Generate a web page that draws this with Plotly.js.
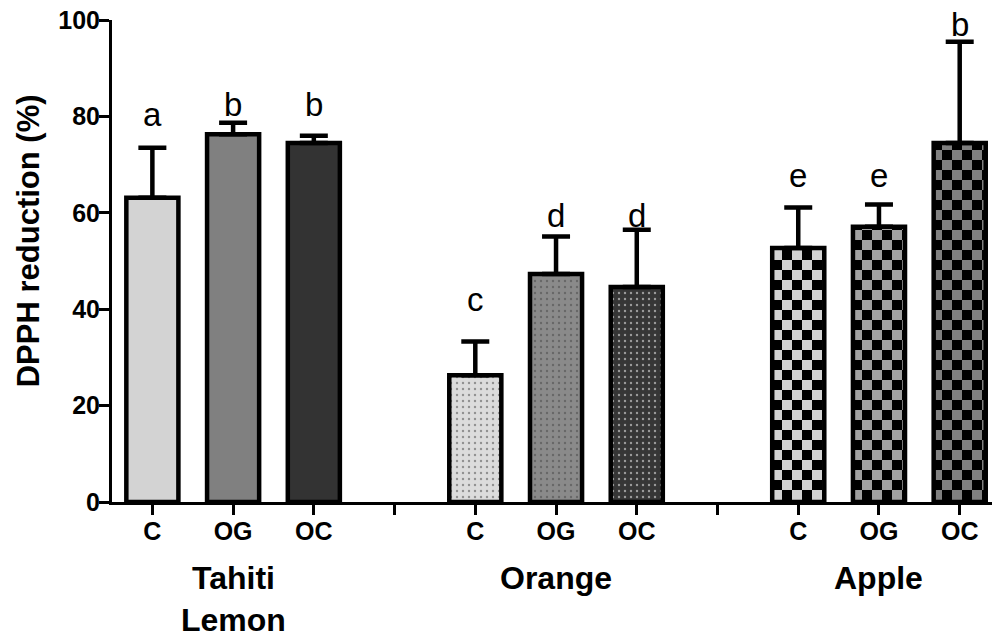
<!DOCTYPE html>
<html><head><meta charset="utf-8">
<script src="https://cdn.plot.ly/plotly-3.0.1.min.js"></script>
<style>html,body{margin:0;padding:0;background:#fff;overflow:hidden}</style>
</head><body>
<div id="chart" style="width:992px;height:637px"></div>
<script>
// ---- data ----
const groups = ['Tahiti<br>Lemon', 'Orange', 'Apple'];
const treatments = ['C', 'OG', 'OC'];
const lemonValues = [63.1, 76.3, 74.5];
const lemonErrors = [10.4, 2.4, 1.5];
const orangeValues = [26.3, 47.3, 44.6];
const orangeErrors = [7.0, 7.8, 11.9];
const appleValues = [52.7, 57.1, 74.5];
const appleErrors = [8.4, 4.6, 21.0];
const lemonLetters = ['a', 'b', 'b'];
const orangeLetters = ['c', 'd', 'd'];
const appleLetters = ['e', 'e', 'b'];
const lemonLetterY = [77.8, 79.9, 79.9];
const orangeLetterY = [39.4, 56.8, 56.8];
const appleLetterY = [65.1, 65.1, 96.5];
const yTickVals = [0, 20, 40, 60, 80, 100];
const yTitle = 'DPPH reduction (%)';

// ---- styling ----
const FONT = 'Arial, Liberation Sans, sans-serif';
const SLOT = treatments.length + 1;   // slots per group incl. gap
const BARW = 0.645;

const seriesList = [
  {vals: lemonValues, errs: lemonErrors, letters: lemonLetters, ly: lemonLetterY,
   bg: ['#d3d3d3', '#808080', '#333333'], fg: ['#d3d3d3', '#808080', '#333333'], shape: ''},
  {vals: orangeValues, errs: orangeErrors, letters: orangeLetters, ly: orangeLetterY,
   bg: ['#dcdcdc', '#8a8a8a', '#363636'], fg: ['#2a2a2a', '#1e1e1e', '#0a0a0a'], shape: '.'},
  {vals: appleValues, errs: appleErrors, letters: appleLetters, ly: appleLetterY,
   bg: ['#d3d3d3', '#a0a0a0', '#808080'], fg: ['#000000', '#000000', '#000000'], shape: '+'}
];

const traces = [];
const annotations = [];
const tickVals = [];
const tickText = [];
seriesList.forEach((s, g) => {
  const xs = treatments.map((t, i) => g * SLOT + i);
  traces.push({
    type: 'bar', x: xs, y: s.vals, width: BARW,
    marker: {
      color: s.bg,
      line: {color: '#000', width: 4.5},
      pattern: {shape: s.shape, fgcolor: s.fg, fillmode: 'overlay', size: 6, solidity: 0.12}
    },
    error_y: {type: 'data', symmetric: false, array: s.errs, arrayminus: s.errs.map(() => 0),
              color: '#000', thickness: 4.5, width: 14},
    hoverinfo: 'skip'
  });
  treatments.forEach((t, i) => {
    tickVals.push(g * SLOT + i); tickText.push(t);
    annotations.push({xref: 'x', yref: 'y', x: g * SLOT + i, y: s.ly[i], text: s.letters[i],
      showarrow: false, xanchor: 'center', yanchor: 'bottom', yshift: -8,
      font: {family: FONT, size: 33, color: '#000'}});
  });
  if (g < seriesList.length - 1) { tickVals.push(g * SLOT + treatments.length); tickText.push(''); }
  annotations.push({xref: 'x', yref: 'paper', x: g * SLOT + 1, y: -0.116, text: groups[g],
    showarrow: false, xanchor: 'center', yanchor: 'top', align: 'center',
    font: {family: FONT, size: 32, color: '#000', weight: 'bold'}});
});
annotations.push({xref: 'paper', yref: 'paper', x: -0.094, y: 0.5415, text: yTitle, textangle: -90,
  showarrow: false, xanchor: 'center', yanchor: 'middle',
  font: {family: FONT, size: 31, color: '#000', weight: 'bold'}});

const layout = {
  width: 992, height: 637,
  margin: {l: 112, r: 0, t: 20, b: 135},
  paper_bgcolor: '#fff', plot_bgcolor: '#fff',
  showlegend: false,
  xaxis: {range: [-0.5, 10.4], tickmode: 'array', tickvals: tickVals, ticktext: tickText,
    showline: true, linecolor: '#000', linewidth: 3, ticks: 'outside', ticklen: 10, tickwidth: 3,
    tickcolor: '#000', showgrid: false, zeroline: false, ticklabelstandoff: -5,
    tickfont: {family: FONT, size: 25, color: '#000', weight: 'bold'}},
  yaxis: {range: [0, 100], tickmode: 'array', tickvals: yTickVals,
    showline: true, linecolor: '#000', linewidth: 3, ticks: 'outside', ticklen: 10, tickwidth: 3,
    tickcolor: '#000', showgrid: false, zeroline: false, ticklabelstandoff: -6,
    tickfont: {family: FONT, size: 25, color: '#000', weight: 'bold'}},
  annotations: annotations
};

Plotly.newPlot('chart', traces, layout, {staticPlot: true, displayModeBar: false}).then(gd => {
  // checkerboard fill for the Apple bars
  const NS = 'http://www.w3.org/2000/svg';
  const svg = gd.querySelector('svg.main-svg');
  let defs = svg.querySelector('defs');
  if (!defs) { defs = document.createElementNS(NS, 'defs'); svg.insertBefore(defs, svg.firstChild); }
  const sq = 10;
  seriesList[2].bg.forEach((c, i) => {
    const p = document.createElementNS(NS, 'pattern');
    p.setAttribute('id', 'chk' + i);
    p.setAttribute('patternUnits', 'userSpaceOnUse');
    p.setAttribute('width', 2 * sq); p.setAttribute('height', 2 * sq);
    const mk = (x, y, f) => { const r = document.createElementNS(NS, 'rect');
      r.setAttribute('x', x); r.setAttribute('y', y); r.setAttribute('width', sq); r.setAttribute('height', sq);
      r.setAttribute('fill', f); p.appendChild(r); };
    mk(0, 0, '#000'); mk(sq, 0, c); mk(0, sq, c); mk(sq, sq, '#000');
    defs.appendChild(p);
  });
  const barTraces = gd.querySelectorAll('g.trace.bars');
  const appleTrace = barTraces[2];
  if (appleTrace) {
    appleTrace.querySelectorAll('g.point path').forEach((path, i) => {
      path.style.fill = 'url(#chk' + i + ')';
      path.style.fillOpacity = 1;
    });
  }
});
</script>
</body></html>
